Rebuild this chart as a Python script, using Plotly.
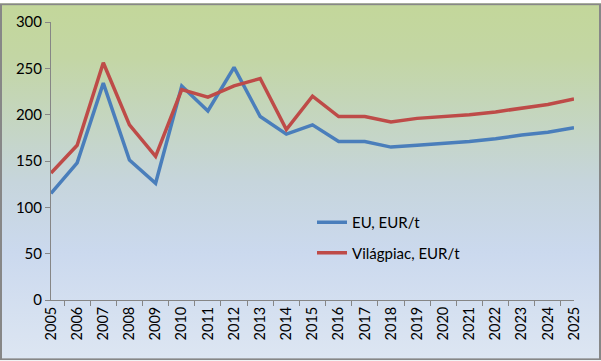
import base64
import plotly.graph_objects as go

years = [str(y) for y in range(2005, 2026)]
eu = [115, 148, 234, 151, 126, 231, 204, 251, 198, 179, 189, 171, 171, 165, 167, 169, 171, 174, 178, 181, 186]
world = [137, 167, 256, 189, 155, 227, 219, 231, 239, 184, 220, 198, 198, 192, 196, 198, 200, 203, 207, 211, 217]
names = ["EU, EUR/t", "Világpiac, EUR/t"]
colors = ["#4A7EBB", "#BE4B48"]

W, H = 601, 361
L, R, T, B = 51, 27, 19, 61
pw, ph = W - L - R, H - T - B

svg = (
    "<svg xmlns='http://www.w3.org/2000/svg' width='601' height='361' preserveAspectRatio='none'>"
    "<defs><linearGradient id='g' x1='0' y1='0' x2='0' y2='1'>"
    "<stop offset='0' stop-color='#c3d79a'/>"
    "<stop offset='0.15' stop-color='#c3d6a4'/>"
    "<stop offset='0.5' stop-color='#c6d5dc'/>"
    "<stop offset='0.7' stop-color='#cbd9ee'/>"
    "<stop offset='1' stop-color='#dde6f2'/>"
    "</linearGradient></defs>"
    "<rect x='0' y='0' width='601' height='361' fill='url(#g)'/>"
    "<rect x='1' y='1' width='599' height='359' fill='none' stroke='#878787' stroke-width='2'/>"
    "</svg>"
)
src = "data:image/svg+xml;base64," + base64.b64encode(svg.encode()).decode()

fig = go.Figure()
for name, vals, c in zip(names, [eu, world], colors):
    fig.add_trace(go.Scatter(x=years, y=vals, mode="lines", name=name,
                             line=dict(color=c, width=3.5), legendgroup=name))

fig.add_layout_image(dict(source=src, xref="paper", yref="paper",
                          x=-L / pw, y=1 + T / ph, sizex=W / pw, sizey=H / ph,
                          xanchor="left", yanchor="top", sizing="stretch", layer="below"))

fig.update_layout(
    width=W, height=H,
    margin=dict(l=L, r=R, t=T, b=B),
    paper_bgcolor="rgba(0,0,0,0)", plot_bgcolor="rgba(0,0,0,0)",
    font=dict(family="Lato, Carlito, sans-serif", size=15, color="#000000"),
    showlegend=True,
    legend=dict(x=(312 - L) / pw, y=(300 - 205) / ph, xanchor="left", yanchor="top",
                bgcolor="rgba(0,0,0,0)", tracegroupgap=8, font=dict(size=15)),
    xaxis=dict(type="category", tickangle=-90, tickson="boundaries", ticks="outside",
               ticklen=5, tickcolor="#868686", showline=True, linecolor="#868686",
               linewidth=1, showgrid=False, zeroline=False, fixedrange=True,
               tickfont=dict(size=14.5)),
    yaxis=dict(range=[0, 300], tickvals=[0, 50, 100, 150, 200, 250, 300], ticks="outside",
               ticklen=5, tickcolor="#868686", showline=True, linecolor="#868686",
               linewidth=1, showgrid=False, zeroline=False, tickfont=dict(size=15)),
)

fig.write_html("out.html", config={"displayModeBar": False},
               post_script="document.body.style.margin='0';document.body.style.overflow='hidden';")
